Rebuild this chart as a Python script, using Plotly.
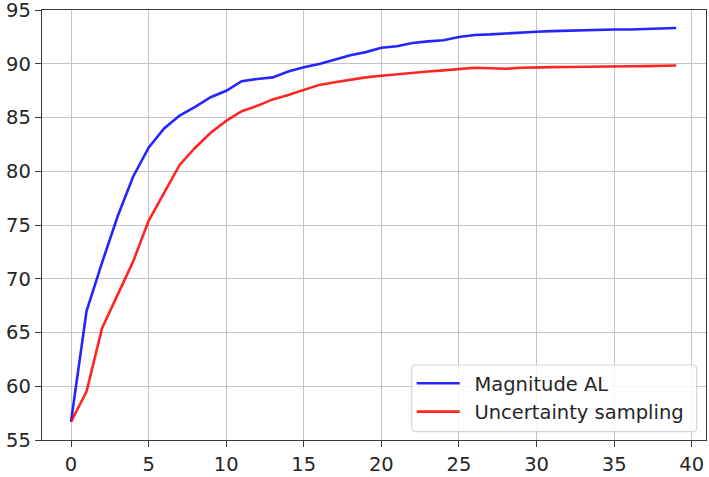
import plotly.graph_objects as go

# Active-learning accuracy per round for the two query strategies
rounds = list(range(40))
magnitude_al = [
    56.7, 67.0, 71.5, 75.8, 79.5, 82.2, 84.0, 85.2, 86.0, 86.9,
    87.5, 88.4, 88.6, 88.75, 89.3, 89.7, 90.0, 90.4, 90.8, 91.1,
    91.5, 91.65, 91.95, 92.1, 92.2, 92.5, 92.7, 92.75, 92.85, 92.9,
    93.0, 93.05, 93.1, 93.1, 93.15, 93.2, 93.2, 93.25, 93.3, 93.35,
]
uncertainty_sampling = [
    56.7, 59.5, 65.4, 68.5, 71.6, 75.4, 78.0, 80.6, 82.2, 83.6,
    84.7, 85.6, 86.1, 86.7, 87.1, 87.6, 88.05, 88.3, 88.55, 88.75,
    88.9, 89.05, 89.2, 89.3, 89.4, 89.55, 89.65, 89.6, 89.55, 89.65,
    89.7, 89.7, 89.72, 89.75, 89.75, 89.75, 89.78, 89.8, 89.85, 89.85,
]
series_names = ["Magnitude AL", "Uncertainty sampling"]
series_colors = ["#0000ff", "#ff0000"]

x_ticks = [0, 5, 10, 15, 20, 25, 30, 35, 40]
y_ticks = [55, 60, 65, 70, 75, 80, 85, 90, 95]

W, H = 709, 477
M_L, M_R, M_T, M_B = 42, 3, 10, 37
PW, PH = W - M_L - M_R, H - M_T - M_B

FONT = "DejaVu Sans"
TEXT = "#262626"
FS = 19.5

fig = go.Figure()
for name, ys, col in zip(series_names, [magnitude_al, uncertainty_sampling], series_colors):
    fig.add_trace(go.Scatter(
        x=rounds, y=ys, mode="lines", name="\u2002" + name,
        line=dict(color=col, width=2.6),
        opacity=0.85,
    ))


def px_to_paper(px, py):
    return (px - M_L) / PW, (H - M_B - py) / PH


# rounded legend frame (pixel box converted to paper units)
bx0, by0 = px_to_paper(411.7, 431.7)
bx1, by1 = px_to_paper(696.7, 365.0)
r = 4.5
rx, ry = r / PW, r / PH
frame = (
    f"M{bx0 + rx},{by0} L{bx1 - rx},{by0} Q{bx1},{by0} {bx1},{by0 + ry} "
    f"L{bx1},{by1 - ry} Q{bx1},{by1} {bx1 - rx},{by1} "
    f"L{bx0 + rx},{by1} Q{bx0},{by1} {bx0},{by1 - ry} "
    f"L{bx0},{by0 + ry} Q{bx0},{by0} {bx0 + rx},{by0} Z"
)
fig.add_shape(type="path", path=frame, xref="paper", yref="paper",
              line=dict(color="rgba(204,204,204,0.85)", width=1.2),
              fillcolor="rgba(255,255,255,0.85)", layer="above")

axis_common = dict(
    showgrid=True, gridcolor="#c4c4c4", gridwidth=1.4,
    showline=True, linecolor="#3a3a3a", linewidth=1.4, mirror=True,
    ticks="outside", ticklen=6, tickwidth=1.3, tickcolor="#3a3a3a",
    tickfont=dict(family=FONT, size=FS, color=TEXT),
    ticklabeloverflow="allow",
    automargin=False,
    zeroline=False,
)

fig.update_layout(
    width=W, height=H,
    margin=dict(l=M_L, r=M_R, t=M_T, b=M_B, pad=0, autoexpand=False),
    paper_bgcolor="white", plot_bgcolor="white",
    font=dict(family=FONT, size=FS, color=TEXT),
    xaxis=dict(range=[-1.87, 40.92], tickvals=x_ticks, **axis_common),
    yaxis=dict(range=[55, 95.02], tickvals=y_ticks, **axis_common),
    showlegend=True,
    legend=dict(
        x=bx0, y=by1 + 0.002, xanchor="left", yanchor="top",
        bgcolor="rgba(0,0,0,0)", borderwidth=0,
        font=dict(family=FONT, size=FS, color=TEXT),
        itemwidth=43, tracegroupgap=0,
    ),
)

fig.write_html("out.html")
